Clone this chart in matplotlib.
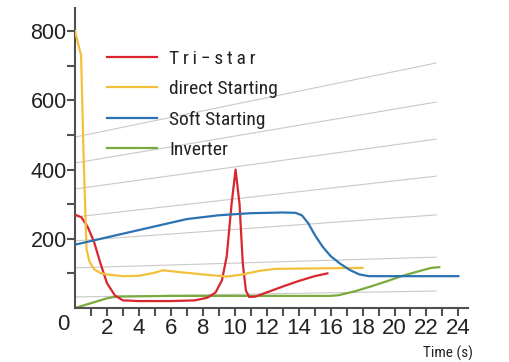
import numpy as np
import matplotlib.pyplot as plt

plt.rcParams['font.family'] = ['Liberation Sans', 'DejaVu Sans']
NARROW = ['Roboto Condensed', 'DejaVu Sans']

# series (time in s, value)
tri_t = [0, 0.4, 0.8, 1.2, 1.6, 2.0, 2.5, 3.0, 4, 6, 7.5, 8.3, 8.8, 9.2, 9.5, 9.8,
         10.05, 10.3, 10.5, 10.7, 10.9, 11.3, 12, 13, 14, 15, 15.8]
tri_v = [270, 262, 234, 190, 128, 72, 36, 22, 20, 20, 22, 30, 45, 80, 150, 300,
         400, 300, 130, 50, 32, 33, 45, 62, 78, 92, 100]

direct_t = [0, 0.38, 0.55, 0.72, 0.9, 1.2, 1.6, 2.0, 3.0, 4.0, 5.0, 5.5, 6.5, 8.0,
            9.5, 10.5, 11.5, 12.5, 14, 16, 18]
direct_v = [800, 730, 420, 170, 135, 112, 101, 97, 92, 93, 102, 109, 104, 97,
            91, 97, 107, 113, 114, 115, 116]

soft_t = [0, 7, 9, 11, 13, 13.8, 14.2, 14.6, 15, 15.5, 16, 16.6, 17.2, 17.8, 18.4,
          20, 24]
soft_v = [183, 257, 268, 274, 276, 275, 268, 245, 212, 177, 150, 128, 110, 97, 92,
          92, 92]

inv_t = [0, 1, 2, 2.6, 6, 10, 14, 16, 16.5, 17.5, 18.5, 19.5, 20.5, 21.5, 22.3, 22.8]
inv_v = [0, 14, 28, 33, 35, 35, 35, 35, 37, 48, 62, 77, 93, 106, 116, 118]

# slanted background guide lines
guide_end = 22.6
guide_left = [494, 419, 344, 263, 194, 116, 32]
guide_right = [708, 595, 488, 381, 269, 147, 49]

fig = plt.figure(figsize=(5.09, 3.62), dpi=100)
ax = fig.add_axes([75/509, 54/362, 393/509, 300/362])

for a, b in zip(guide_left, guide_right):
    ax.plot([0, guide_end], [a, b], color='#c9c9c9', lw=0.8, zorder=1)

ax.plot(tri_t, tri_v, color='#d9262e', lw=1.6, label='T\u2009r\u2009i\u2009\u2212\u2009s\u2009t\u2009a\u2009r', zorder=3)
ax.plot(direct_t, direct_v, color='#f2c03a', lw=1.6, label='direct Starting', zorder=3)
ax.plot(soft_t, soft_v, color='#2b72b2', lw=1.6, label='Soft Starting', zorder=3)
ax.plot(inv_t, inv_v, color='#78aa3c', lw=1.6, label='Inverter', zorder=2)

ax.set_xlim(0, 24.6)
ax.set_ylim(0, 867)

for s in ['top', 'right']:
    ax.spines[s].set_visible(False)
for s in ['left', 'bottom']:
    ax.spines[s].set_color('#505050')
    ax.spines[s].set_linewidth(1.5)

ax.set_xticks(np.arange(2, 25, 2))
ax.set_xticks(np.arange(1, 25, 2), minor=True)
ax.set_yticks([200, 400, 600, 800])
ax.set_yticks([100, 300, 500, 700], minor=True)
ax.tick_params(which='both', colors='#505050', width=1.5, length=6, pad=1,
               labelcolor='#222222')
ax.tick_params(axis='x', labelsize=16)
ax.tick_params(axis='y', labelsize=15.5, pad=0)
ax.text(-0.75, -18, '0', ha='center', va='top', fontsize=16, color='#222222')

fig.text(448/509, 1 - 353/362, 'Time (s)', ha='center', va='center', fontsize=11,
         family=NARROW, color='#222222')

leg = ax.legend(loc='upper left', bbox_to_anchor=(0.081, 0.86), frameon=False,
                borderpad=0, borderaxespad=0, handlelength=2.6, handletextpad=0.6,
                labelspacing=0.63, prop={'family': NARROW, 'size': 14})
for t in leg.get_texts():
    t.set_color('#222222')

fig.savefig('out.png', dpi=100)
